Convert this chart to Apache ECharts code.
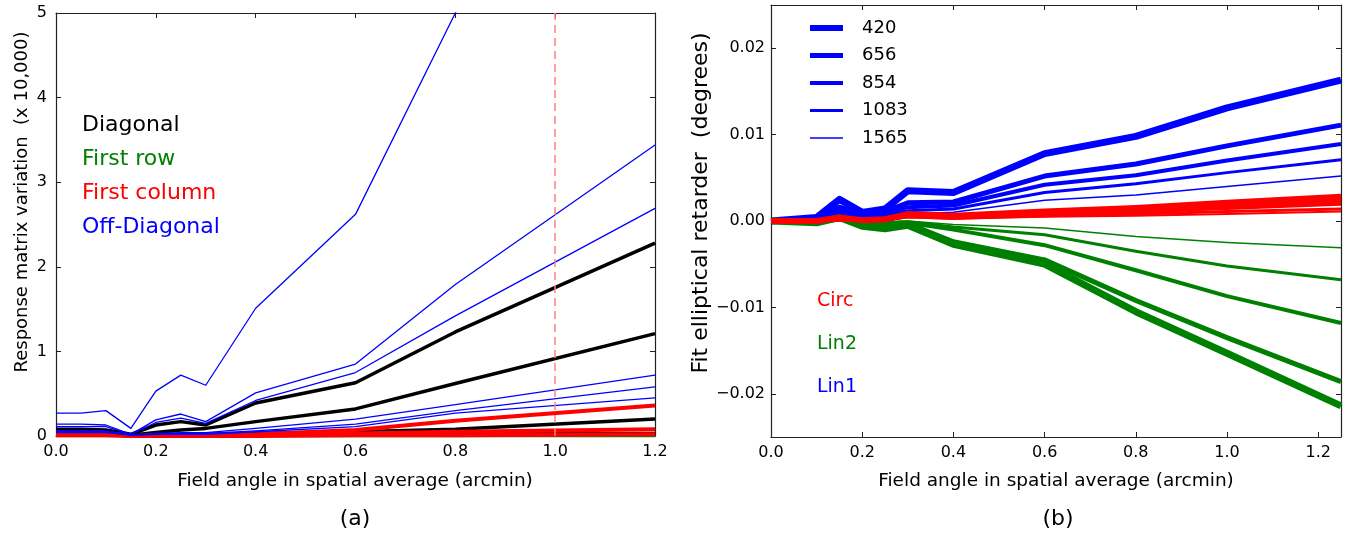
<!DOCTYPE html>
<html><head><meta charset="utf-8">
<script src="https://cdn.jsdelivr.net/npm/echarts@6/dist/echarts.min.js"></script>
<style>html,body{margin:0;padding:0;background:#fff}#c{width:1347px;height:534px}</style>
</head><body><div id="c"></div>
<script>
// ---------- Panel (a): response matrix variation (x 10,000) ----------
const xA = [0, 0.05, 0.1, 0.15, 0.2, 0.25, 0.3, 0.4, 0.6, 0.8, 1.2];
const diagonal1 = [0.08, 0.08, 0.07, 0.02, 0.13, 0.17, 0.13, 0.39, 0.63, 1.23, 2.28];
const diagonal2 = [0.05, 0.05, 0.05, 0.01, 0.04, 0.07, 0.09, 0.17, 0.32, 0.62, 1.21];
const diagonal3 = [0.03, 0.03, 0.03, 0.00, 0.01, 0.01, 0.02, 0.03, 0.05, 0.08, 0.20];
const diagonal4 = [0.02, 0.02, 0.02, 0.00, 0.00, 0.00, 0.01, 0.01, 0.01, 0.02, 0.03];
const firstRow1 = [0.00, 0.00, 0.00, 0.00, 0.00, 0.00, 0.00, 0.00, 0.00, 0.00, 0.00];
const firstCol1 = [0.04, 0.04, 0.04, 0.00, 0.01, 0.01, 0.01, 0.02, 0.07, 0.18, 0.36];
const firstCol2 = [0.03, 0.03, 0.03, 0.00, 0.00, 0.00, 0.00, 0.01, 0.03, 0.05, 0.08];
const firstCol3 = [0.01, 0.01, 0.01, 0.00, 0.00, 0.00, 0.00, 0.00, 0.01, 0.01, 0.02];
const offDiag1 = [0.27, 0.27, 0.30, 0.09, 0.53, 0.72, 0.60, 1.51, 2.62, 5.00, 9.50];
const offDiag2 = [0.14, 0.14, 0.13, 0.02, 0.19, 0.26, 0.17, 0.51, 0.85, 1.79, 3.44];
const offDiag3 = [0.11, 0.11, 0.11, 0.02, 0.16, 0.21, 0.15, 0.42, 0.75, 1.42, 2.69];
const offDiag4 = [0.06, 0.06, 0.06, 0.01, 0.03, 0.04, 0.04, 0.09, 0.20, 0.37, 0.72];
const offDiag5 = [0.05, 0.05, 0.05, 0.01, 0.02, 0.03, 0.03, 0.06, 0.14, 0.30, 0.58];
const offDiag6 = [0.04, 0.04, 0.04, 0.01, 0.02, 0.02, 0.02, 0.05, 0.11, 0.27, 0.45];
const xTicksA = [0, 0.2, 0.4, 0.6, 0.8, 1.0, 1.2];
const yTicksA = [0, 1, 2, 3, 4, 5];
const refAngle = 1.0;
const labelsA = ['Diagonal', 'First row', 'First column', 'Off-Diagonal'];

// ---------- Panel (b): fit elliptical retarder (degrees) ----------
const xB = [0, 0.1, 0.15, 0.2, 0.25, 0.3, 0.4, 0.6, 0.8, 1.0, 1.25];
const wavelengths = ['420', '656', '854', '1083', '1565'];
const lin1_420  = [0, 0.0004, 0.0025, 0.0010, 0.0014, 0.0035, 0.0033, 0.0078, 0.0098, 0.0131, 0.0163];
const lin1_656  = [0, 0.0003, 0.0016, 0.0008, 0.0011, 0.0021, 0.0022, 0.0052, 0.0066, 0.0087, 0.0111];
const lin1_854  = [0, 0.0002, 0.0012, 0.0006, 0.0009, 0.0016, 0.0018, 0.0042, 0.0053, 0.0070, 0.0089];
const lin1_1083 = [0, 0.0002, 0.0009, 0.0005, 0.0007, 0.0012, 0.0014, 0.0033, 0.0043, 0.0056, 0.0071];
const lin1_1565 = [0, 0.0001, 0.0006, 0.0003, 0.0005, 0.0008, 0.0010, 0.0024, 0.0030, 0.0040, 0.0052];
const lin2_420  = [0, -0.0002, 0.0004, -0.0006, -0.0009, -0.0005, -0.0027, -0.0050, -0.0105, -0.0153, -0.0214];
const lin2_656  = [0, -0.0002, 0.0003, -0.0004, -0.0006, -0.0003, -0.0024, -0.0045, -0.0092, -0.0135, -0.0186];
const lin2_854  = [0, -0.0001, 0.0002, -0.0002, -0.0003, -0.0002, -0.0010, -0.0028, -0.0057, -0.0087, -0.0118];
const lin2_1083 = [0, -0.0001, 0.0001, -0.0001, -0.0002, -0.0001, -0.0007, -0.0016, -0.0035, -0.0052, -0.0068];
const lin2_1565 = [0, 0, 0.0001, -0.0001, -0.0001, 0, -0.0004, -0.0008, -0.0018, -0.0025, -0.0031];
const circ_420  = [0, 0, 0.0004, 0.0001, 0.0002, 0.0008, 0.0006, 0.0011, 0.0015, 0.0021, 0.0028];
const circ_656  = [0, 0, 0.0003, 0.0001, 0.0002, 0.0007, 0.0005, 0.0009, 0.0013, 0.0018, 0.0024];
const circ_854  = [0, 0, 0.0002, 0.0001, 0.0001, 0.0006, 0.0004, 0.0008, 0.0011, 0.0015, 0.0020];
const circ_1083 = [0, 0, 0.0002, 0, 0.0001, 0.0005, 0.0003, 0.0006, 0.0008, 0.0011, 0.0014];
const circ_1565 = [0, 0, 0.0001, 0, 0.0001, 0.0004, 0.0003, 0.0005, 0.0006, 0.0008, 0.0011];
const xTicksB = [0, 0.2, 0.4, 0.6, 0.8, 1.0, 1.2];
const yTicksB = [-0.02, -0.01, 0, 0.01, 0.02];
const labelsB = ['Circ', 'Lin2', 'Lin1'];

// ---------- build ----------
const FONT = '"DejaVu Sans", sans-serif';
const AX = '#222';
const pairs = (xs, ys) => xs.map((v, i) => [v, ys[i]]);
const BLUE = '#0000ff', GREEN = '#008000', RED = '#ff0000', BLACK = '#000000';

function line(name, xs, ys, color, width, gi) {
  return {
    type: 'line', name: name, xAxisIndex: gi * 2, yAxisIndex: gi * 2,
    data: pairs(xs, ys), showSymbol: false, symbol: 'none', clip: true,
    lineStyle: { color: color, width: width, join: 'round' },
    itemStyle: { color: color }, emphasis: { disabled: true }, silent: true, animation: false
  };
}

const series = [];
// panel (a)
series.push(line('Diag1', xA, diagonal1, BLACK, 3.5, 0));
series.push(line('Diag2', xA, diagonal2, BLACK, 3.5, 0));
series.push(line('Diag3', xA, diagonal3, BLACK, 3.5, 0));
series.push(line('Diag4', xA, diagonal4, BLACK, 3.5, 0));
series.push(line('Row1', xA, firstRow1, GREEN, 3, 0));
series.push(line('Col1', xA, firstCol1, RED, 4, 0));
series.push(line('Col2', xA, firstCol2, RED, 4, 0));
series.push(line('Col3', xA, firstCol3, RED, 4, 0));
[offDiag1, offDiag2, offDiag3, offDiag4, offDiag5, offDiag6].forEach((d, i) =>
  series.push(line('Off' + i, xA, d, BLUE, 1.3, 0)));
series[series.length - 1].markLine = {
  silent: true, symbol: 'none', animation: false,
  label: { show: false },
  lineStyle: { color: '#ff8080', type: [8, 5], width: 1.5 },
  data: [{ xAxis: refAngle }]
};
// panel (b)
const widthsB = [7, 5, 4, 3, 1.5];
const lin1 = [lin1_420, lin1_656, lin1_854, lin1_1083, lin1_1565];
const lin2 = [lin2_420, lin2_656, lin2_854, lin2_1083, lin2_1565];
const circ = [circ_420, circ_656, circ_854, circ_1083, circ_1565];
const widthsC = [6, 5, 4, 3, 2];
lin1.forEach((d, i) => series.push(line(wavelengths[i], xB, d, BLUE, widthsB[i], 1)));
lin2.forEach((d, i) => series.push(line('Lin2 ' + wavelengths[i], xB, d, GREEN, widthsB[i], 1)));
circ.forEach((d, i) => series.push(line('Circ ' + wavelengths[i], xB, d, RED, widthsC[i], 1)));

const tickStyle = { show: true, inside: true, length: 5, lineStyle: { color: AX, width: 1 } };
const lineStyleAx = { show: true, onZero: false, lineStyle: { color: AX, width: 1.2 } };
const lbl = { fontFamily: FONT, fontSize: 16, color: '#000' };

function xAx(gi, min, max, ticks, pos, showLabel) {
  return {
    type: 'value', gridIndex: gi, position: pos, min: min, max: max,
    axisLine: lineStyleAx, splitLine: { show: false },
    axisTick: Object.assign({}, tickStyle, { customValues: ticks }),
    axisLabel: Object.assign({}, lbl, { show: showLabel, margin: 8, customValues: ticks,
      formatter: v => Number(v).toFixed(1) })
  };
}
function yAx(gi, min, max, ticks, pos, showLabel, fmt, margin) {
  return {
    type: 'value', gridIndex: gi, position: pos, min: min, max: max,
    axisLine: lineStyleAx, splitLine: { show: false },
    axisTick: Object.assign({}, tickStyle, { customValues: ticks }),
    axisLabel: Object.assign({}, lbl, { show: showLabel, margin: margin, customValues: ticks, formatter: fmt })
  };
}
const fmtB = v => { const a = Math.abs(v).toFixed(2); return (v < -1e-9 ? '\u2212' : '') + a; };

const txt = (t, x, y, size, color, extra) => Object.assign({
  type: 'text', x: x, y: y, silent: true,
  style: { text: t, font: size + 'px ' + FONT, fill: color, textAlign: 'center', textVerticalAlign: 'middle' }
}, extra || {});
const colorsA = [BLACK, GREEN, RED, BLUE];
const colorsB = [RED, GREEN, BLUE];
const graphics = [
  txt('Response matrix variation  (x 10,000)', 22, 202, 18, '#000', { rotation: Math.PI / 2 }),
  txt('Fit elliptical retarder  (degrees)', 701, 203, 22, '#000', { rotation: Math.PI / 2 }),
  txt('Field angle in spatial average (arcmin)', 355, 481, 18.5, '#000'),
  txt('Field angle in spatial average (arcmin)', 1056, 481, 18.5, '#000'),
  txt('(a)', 355, 519, 22, '#000'),
  txt('(b)', 1058, 519, 22, '#000')
];
labelsA.forEach((t, i) => {
  const g = txt(t, 82, 125 + i * 34, 22, colorsA[i]);
  g.style.textAlign = 'left';
  graphics.push(g);
});
labelsB.forEach((t, i) => {
  const g = txt(t, 817, 301 + i * 43, 19, colorsB[i]);
  g.style.textAlign = 'left';
  graphics.push(g);
});

const legendW = [6, 5, 4, 3, 1.5];
const option = {
  animation: false,
  backgroundColor: '#fff',
  grid: [
    { left: 56, top: 13, width: 599, height: 423 },
    { left: 771, top: 5, width: 570, height: 432 }
  ],
  xAxis: [
    xAx(0, 0, 1.2, xTicksA, 'bottom', true),
    xAx(0, 0, 1.2, xTicksA, 'top', false),
    xAx(1, 0, 1.25, xTicksB, 'bottom', true),
    xAx(1, 0, 1.25, xTicksB, 'top', false)
  ],
  yAxis: [
    yAx(0, 0, 5, yTicksA, 'left', true, v => String(Math.round(v)), 9),
    yAx(0, 0, 5, yTicksA, 'right', false, v => v, 9),
    yAx(1, -0.025, 0.025, yTicksB, 'left', true, fmtB, 6),
    yAx(1, -0.025, 0.025, yTicksB, 'right', false, fmtB, 6)
  ],
  legend: {
    left: 805, top: 14, orient: 'vertical', selectedMode: false,
    itemWidth: 33, itemHeight: 18, itemGap: 9.5,
    textStyle: { fontFamily: FONT, fontSize: 18, color: '#000', padding: [0, 0, 0, 14] },
    data: wavelengths.map((w, i) => ({
      name: w,
      icon: 'path://M0,0H33V' + legendW[i] + 'H0Z',
      itemStyle: { color: BLUE }
    }))
  },
  series: series,
  graphic: graphics
};
const chart = echarts.init(document.getElementById('c'), null, { renderer: 'canvas' });
chart.setOption(option);
</script>
</body></html>
